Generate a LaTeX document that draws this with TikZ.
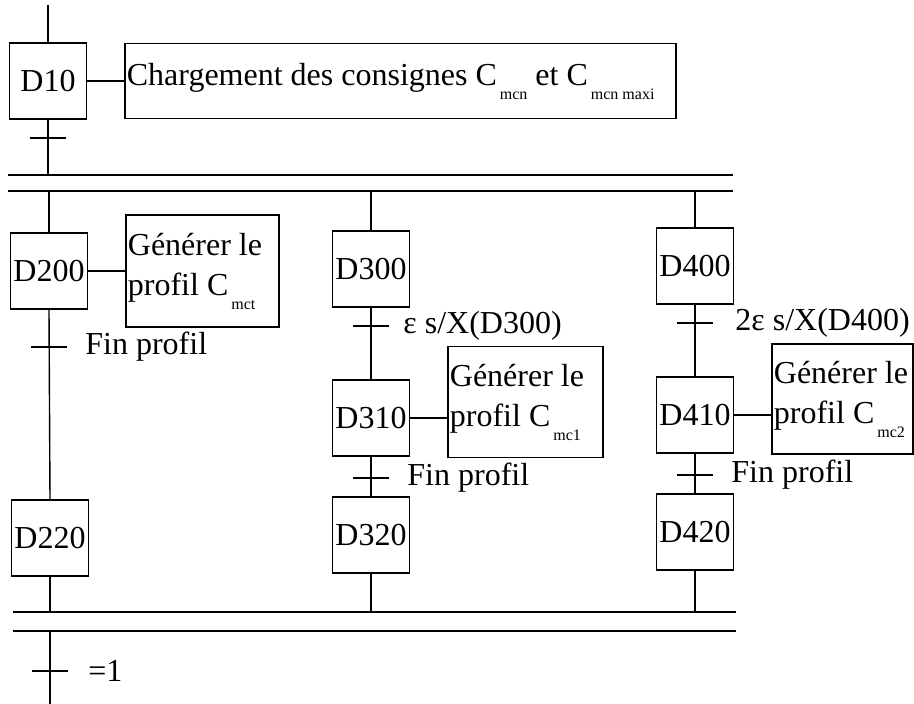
\documentclass[tikz,border=0pt]{standalone}
\usepackage{fontspec}
\setmainfont{Liberation Serif}
\usepackage{tikz}
\usetikzlibrary{positioning}
\newcommand{\idx}[1]{\hspace{1.5pt}\raisebox{-7pt}{\fontsize{8}{8}\selectfont #1}}
\tikzset{
  grafcet step/.style={
    draw,
    line width=0.7pt,
    minimum width=38.5pt,
    minimum height=38pt,
    inner sep=0pt,
    font=\fontsize{16}{20}\selectfont
  },
  grafcet action/.style={
    draw,
    line width=0.7pt,
    align=flush left,
    inner xsep=1pt,
    inner ysep=0pt,
    font=\fontsize{16}{20}\selectfont
  },
  grafcet link/.style={line width=0.7pt},
  grafcet tick/.style={line width=0.7pt},
  grafcet label/.style={
    anchor=west,
    inner sep=0pt,
    font=\fontsize{16}{20}\selectfont
  }
}
\begin{document}
\begin{tikzpicture}[x=0.5pt, y=-0.5pt]
  \useasboundingbox (0,0) rectangle (914,704);

  % steps
  \node[grafcet step] (d10) at (48,81) {D10};
  \node[grafcet step] (d200) at (49,271) {D200};
  \node[grafcet step] (d220) at (50,538) {D220};
  \node[grafcet step] (d300) at (371,269) {D300};
  \node[grafcet step] (d310) at (371,418) {D310};
  \node[grafcet step] (d320) at (371,535) {D320};
  \node[grafcet step] (d400) at (695,266) {D400};
  \node[grafcet step] (d410) at (695,415) {D410};
  \node[grafcet step] (d420) at (695,532) {D420};

  % actions
  \node[grafcet action, text width=273.5pt, minimum height=37.5pt, right=18.5pt of d10] (a10)
    {\mbox{Chargement des consignes C\idx{mcn} et C\idx{mcn maxi}}};
  \node[grafcet action, text width=74.5pt, minimum height=56pt, right=18.5pt of d200] (a200)
    {Générer le\\profil C\idx{mct}};
  \node[grafcet action, text width=75.5pt, minimum height=55.5pt, right=18.5pt of d310, yshift=8pt] (a310)
    {Générer le\\profil C\idx{mc1}};
  \node[grafcet action, text width=68.5pt, minimum height=55pt, right=18.5pt of d410, yshift=8pt] (a410)
    {Générer le\\profil C\idx{mc2}};

  \draw[grafcet link] (d10.east) -- (d10.east -| a10.west);
  \draw[grafcet link] (d200.east) -- (d200.east -| a200.west);
  \draw[grafcet link] (d310.east) -- (d310.east -| a310.west);
  \draw[grafcet link] (d410.east) -- (d410.east -| a410.west);

  % divergence and convergence (double bars)
  \coordinate (div1 left) at (8,175);
  \coordinate (div1 right) at (733,175);
  \coordinate (div2 left) at (8,191);
  \coordinate (div2 right) at (733,191);
  \coordinate (conv1 left) at (13,612);
  \coordinate (conv1 right) at (736,612);
  \coordinate (conv2 left) at (13,631);
  \coordinate (conv2 right) at (736,631);
  \draw[grafcet link] (div1 left) -- (div1 right);
  \draw[grafcet link] (div2 left) -- (div2 right);
  \draw[grafcet link] (conv1 left) -- (conv1 right);
  \draw[grafcet link] (conv2 left) -- (conv2 right);

  % links
  \coordinate (entry) at (48,5);
  \coordinate (exit) at (50,704);
  \draw[grafcet link] (entry) -- (d10.north);
  \draw[grafcet link] (d10.south) -- (d10.south |- div1 left);
  \draw[grafcet link] (d200.north |- div2 left) -- (d200.north);
  \draw[grafcet link] (d300.north |- div2 left) -- (d300.north);
  \draw[grafcet link] (d400.north |- div2 left) -- (d400.north);
  \draw[grafcet link] (d200.south) -- (d220.north);
  \draw[grafcet link] (d300.south) -- (d310.north);
  \draw[grafcet link] (d310.south) -- (d320.north);
  \draw[grafcet link] (d400.south) -- (d410.north);
  \draw[grafcet link] (d410.south) -- (d420.north);
  \draw[grafcet link] (d220.south) -- (d220.south |- conv1 left);
  \draw[grafcet link] (d320.south) -- (d320.south |- conv1 left);
  \draw[grafcet link] (d420.south) -- (d420.south |- conv1 left);
  \draw[grafcet link] (exit |- conv2 left) -- (exit);

  % transitions
  \coordinate (t10) at (48,138);
  \coordinate (t200) at (49,347);
  \coordinate (t300) at (371,326);
  \coordinate (t310) at (371,478);
  \coordinate (t400) at (695,323);
  \coordinate (t410) at (695,475);
  \coordinate (tend) at (50,671);
  \draw[grafcet tick] ([xshift=-9pt]t10) -- ([xshift=9pt]t10);
  \draw[grafcet tick] ([xshift=-9pt]t200) -- ([xshift=9pt]t200);
  \draw[grafcet tick] ([xshift=-9pt]t300) -- ([xshift=9pt]t300);
  \draw[grafcet tick] ([xshift=-9pt]t310) -- ([xshift=9pt]t310);
  \draw[grafcet tick] ([xshift=-9pt]t400) -- ([xshift=9pt]t400);
  \draw[grafcet tick] ([xshift=-9pt]t410) -- ([xshift=9pt]t410);
  \draw[grafcet tick] ([xshift=-9pt]tend) -- ([xshift=9pt]tend);

  \node[grafcet label, right=18pt of t200] (r200) {Fin profil};
  \node[grafcet label, right=16pt of t300] (r300) {ε s/X(D300)};
  \node[grafcet label, right=18pt of t310] (r310) {Fin profil};
  \node[grafcet label, right=20pt of t400] (r400) {2ε s/X(D400)};
  \node[grafcet label, right=18pt of t410] (r410) {Fin profil};
  \node[grafcet label, right=19pt of tend] (rend) {=1};
\end{tikzpicture}
\end{document}
